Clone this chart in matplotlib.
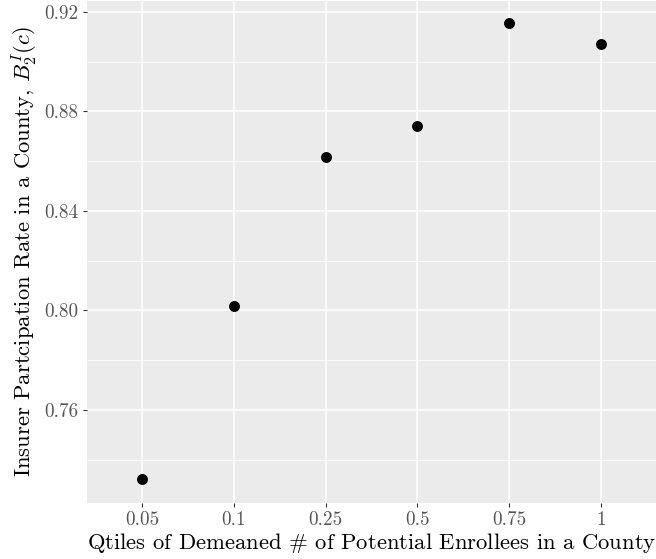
import matplotlib.pyplot as plt
from matplotlib.ticker import MultipleLocator

plt.rcParams['font.family'] = ['cmr10', 'DejaVu Serif']
plt.rcParams['mathtext.fontset'] = 'cm'
plt.rcParams['axes.unicode_minus'] = False

qtiles = ['0.05', '0.1', '0.25', '0.5', '0.75', '1']
rate = [0.7323, 0.8016, 0.8617, 0.8740, 0.9156, 0.9071]

fig = plt.figure(figsize=(6.56, 5.59), dpi=100)
ax = fig.add_axes([87 / 656, 56 / 559, 569 / 656, 502 / 559])

pos = list(range(len(qtiles)))
ax.scatter(pos, rate, s=62, color='black', linewidths=0, zorder=3)

ax.set_facecolor('#EBEBEB')
for s in ax.spines.values():
    s.set_visible(False)
ax.set_xlim(-0.6, len(qtiles) - 0.4)
ax.set_ylim(0.7226, 0.9244)
ax.set_xticks(pos)
ax.set_xticklabels(qtiles)
ax.yaxis.set_major_locator(MultipleLocator(0.04))
ax.yaxis.set_minor_locator(MultipleLocator(0.02))
ax.yaxis.set_major_formatter(plt.FuncFormatter(lambda v, p: f'{v:.2f}'))
ax.grid(which='major', color='white', linewidth=1.1)
ax.grid(which='minor', axis='y', color='white', linewidth=0.55)
ax.set_axisbelow(True)
ax.tick_params(which='major', length=3, width=0.8, color='#333333',
               labelcolor='#555555', labelsize=13.8, pad=3)
ax.tick_params(which='minor', length=0)

ax.set_xlabel(r'Qtiles of Demeaned $\#$ of Potential Enrollees in a County', fontsize=16.3, labelpad=1)
ax.set_ylabel(r'Insurer Partcipation Rate in a County, $B_2^I(c)$', fontsize=16.3, labelpad=3)

fig.savefig('out.png', dpi=100)
